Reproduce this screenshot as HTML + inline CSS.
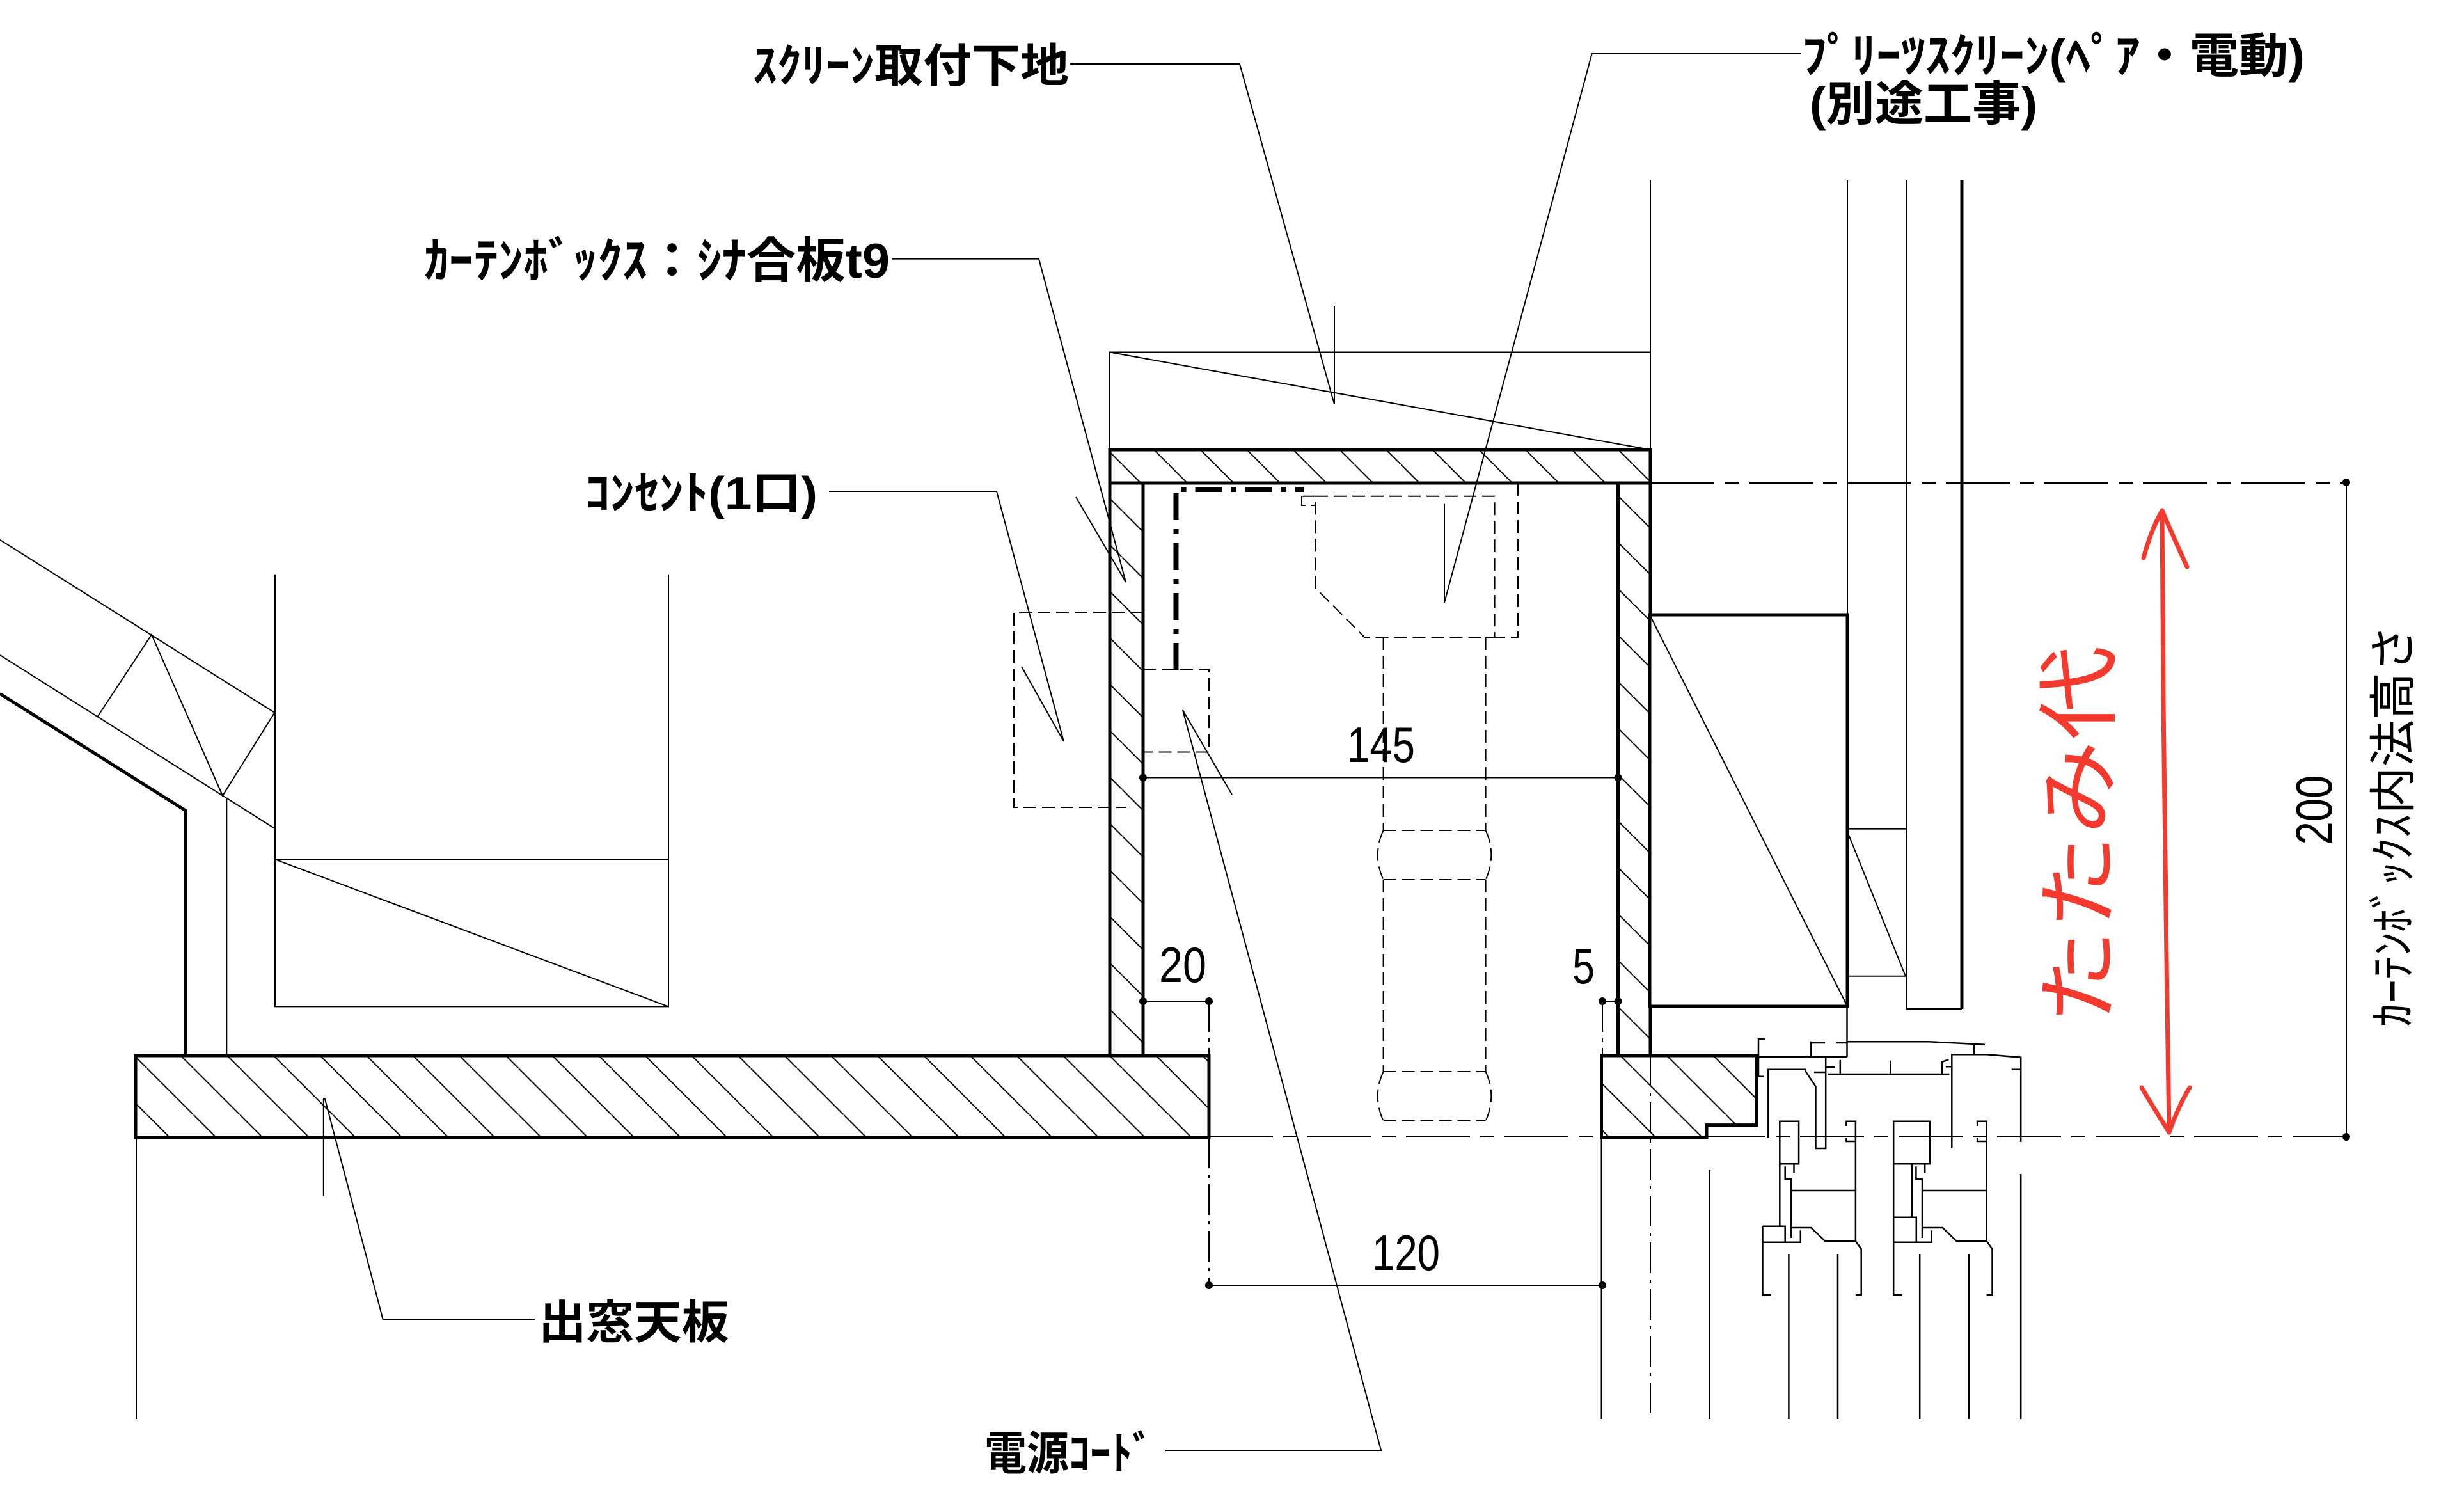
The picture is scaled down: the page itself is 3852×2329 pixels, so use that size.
<!DOCTYPE html>
<html><head><meta charset="utf-8"><style>
html,body{margin:0;padding:0;background:#fff;}
svg{display:block;}
</style></head><body>
<svg xmlns="http://www.w3.org/2000/svg" width="3852" height="2329" viewBox="0 0 3852 2329">
<defs>
<pattern id="h" patternUnits="userSpaceOnUse" width="72.6" height="72.6" x="12" y="0">
<path d="M0,0 L72.6,72.6" stroke="#000" stroke-width="2"/>
</pattern>
</defs>
<rect width="3852" height="2329" fill="#fff"/>

<!-- ===== LEFT ROOF / EAVE ===== -->
<g stroke="#000" stroke-width="2" fill="none">
<path d="M0,843.8 L429.3,1113.9"/>
<path d="M0,1024 L429.3,1294.9"/>
<path d="M153,1119.5 L237,992 L348,1243.7 L429.3,1113.9"/>
<path d="M354.3,1249 V1650"/>
<path d="M430,897.8 V1573.4 H1045 V897.8"/>
<path d="M430,1343.3 H1045"/>
<path d="M430,1343.3 L1045,1573.4"/>
<path d="M213,1778 V2218"/>
</g>
<path d="M0,1084.4 L289.7,1266.8 V1650.5" stroke="#000" stroke-width="5" fill="none"/>

<!-- ===== SLABS ===== -->
<rect x="212" y="1650" width="1678" height="128" fill="url(#h)" stroke="#000" stroke-width="5"/>
<path d="M2503.5,1650 H2745.5 V1758.6 H2668 V1778 H2503.5 Z" fill="url(#h)" stroke="#000" stroke-width="5"/>

<!-- ===== SCREEN MOUNT BASE ===== -->
<g stroke="#000" stroke-width="2" fill="none">
<path d="M1735,703 V550.5 H2580"/>
<path d="M1735,550.5 L2580,703"/>
<path d="M2580,282 V703"/>
<path d="M2888,282 V961"/>
<path d="M2980.5,282 V1577 H3067"/>
</g>
<path d="M3067,282 V1577" stroke="#000" stroke-width="5"/>

<!-- ===== CURTAIN BOX ===== -->
<rect x="1735" y="703" width="845" height="52" fill="url(#h)"/>
<rect x="1735" y="755" width="52" height="895" fill="url(#h)"/>
<rect x="2529.5" y="755" width="50.5" height="895" fill="url(#h)"/>
<g stroke="#000" stroke-width="5" fill="none">
<path d="M1735,1650 V703 H2580 V1650"/>
<path d="M1735,755 H2580"/>
<path d="M1787,755 V1650"/>
<path d="M2529.5,755 V1650"/>
</g>

<!-- window box -->
<rect x="2579" y="961" width="309" height="612" fill="#fff" stroke="#000" stroke-width="5"/>
<path d="M2579,961 L2888,1573" stroke="#000" stroke-width="2"/>
<g stroke="#000" stroke-width="2" fill="none">
<path d="M2888,1295.6 H2980.5 M2888,1525.7 H2980.5"/>
<path d="M2888,1300 L2979,1526"/>
</g>

<!-- hidden (dashed) pleated-screen head & stem -->
<g stroke="#000" stroke-width="2" fill="none" stroke-dasharray="20 9">
<path d="M2035,775.7 V790 H2056"/>
<path d="M2035,775.7 H2056"/>
<path d="M2373,755 V996 H2322.6"/>
<path d="M2056,775.7 H2336.6 V996 H2133 L2056,918.8 Z"/>
<path d="M2162.6,996 V1298 M2322.6,996 V1298"/>
<path d="M2162.6,1298 H2322.6 M2162.6,1375 H2322.6"/>
<path d="M2162.6,1298 Q2145,1336 2162.6,1375 M2322.6,1298 Q2340,1336 2322.6,1375"/>
<path d="M2162.6,1375 V1675 M2322.6,1375 V1675"/>
<path d="M2162.6,1675 H2322.6 M2162.6,1752 H2322.6"/>
<path d="M2162.6,1675 Q2145,1713 2162.6,1752 M2322.6,1675 Q2340,1713 2322.6,1752"/>
<!-- small outlet box in curtain box -->
<path d="M1787,1047 H1890 V1175.5 H1787"/>
<!-- wall outlet -->
<path d="M1787,957 H1585 V1262 H1761"/>
</g>

<!-- power cord dash-dot -->
<path d="M1838.5,1047 V765 H2038" stroke="#000" stroke-width="8" fill="none" stroke-dasharray="42 14 8 14"/>

<!-- ===== WINDOW SASH DETAIL ===== -->
<g stroke="#000" stroke-width="2.5" fill="none">
<path d="M2759.3,1624.3 H2749 V1682.7 H2757.4"/>
<path d="M2749,1652.3 H2887.5"/>
<path d="M2887.5,1573 V1652.3"/>
<path d="M2831.3,1652.3 V1627.7 M2831.3,1630 H2853.1 M2871.1,1630 H2887.5"/>
<path d="M2887.5,1628.3 H3015.7 L3103,1632.7"/>
<path d="M3085.8,1632.7 V1648.3"/>
<path d="M3051.3,1795 V1648.3 H3105.7 L3159.2,1652.7 V1785"/>
<path d="M3144.7,1671.7 H3159.2"/>
<path d="M3036,1679 V1660 L3046.3,1656 M3041.8,1667.3 H3051.3"/>
<path d="M2857.7,1679 H3047.5"/>
<path d="M2876.8,1656.7 V1679 M2955.6,1657.7 V1679"/>
<path d="M2764.3,1779 V1671.7 H2822.5 V1674.3 L2838.5,1698.3 V1795 H2854.2 V1652.3"/>
<path d="M2854.2,1668.3 H2868.4 M2835.9,1676 H2854.2"/>
<!-- sash 1 -->
<path d="M2782.3,1752.7 H2812.1 V1819.3 H2782.3 Z"/>
<path d="M2782.3,1819.3 V1916.7"/>
<path d="M2790.7,1823.3 V1843.3 H2800.3 V1935"/>
<path d="M2804.5,1819.3 V1833.3"/>
<path d="M2800.3,1861 H2900.9"/>
<path d="M2886.4,1760 V1752.7 H2900.9 V1940 M2886.4,1779 V1784 H2900.9"/>
<path d="M2755.5,1916.7 H2790.7 V1941.7 M2755.5,1916.7 V2024.3 H2768.9 M2755.5,1941.7 H2814.8 V1923.3"/>
<path d="M2800.3,1919 H2831.3 L2853.1,1940 H2900.9 L2909.7,1952.3 V2024.3 H2900.9"/>
<path d="M2796.4,1960 V2218 M2873,1960 V2218"/>
<!-- sash 2 -->
<path d="M2960.2,1752.7 H3016.9 V1819.3 H2960.2 Z"/>
<path d="M2960.2,1819.3 V2024.3 H2973.6"/>
<path d="M2988.9,1819.3 V1902.7"/>
<path d="M2960.2,1902.7 H2995.8 V1941.7 M2960.2,1941.7 H3019.6 V1923.3"/>
<path d="M2995.4,1823.3 V1843.3 H3005 V1935"/>
<path d="M3009.2,1819.3 V1833.3"/>
<path d="M3005,1861 H3105.7"/>
<path d="M3091.1,1760 V1752.7 H3105.7 V1940 M3091.1,1779 V1784 H3105.7"/>
<path d="M3005,1919 H3036.8 L3058.6,1940 H3105.7 L3114.5,1952.3 V2024.3 H3105.7"/>
<path d="M3001.2,1960 V2218 M3078.1,1960 V2218"/>
<path d="M3159.2,1835 V2218"/>
</g>

<!-- lines below slab -->
<g stroke="#000" stroke-width="2" fill="none">
<path d="M2503.5,1778 V2218"/>
<path d="M2672.6,1829 V2218"/>
</g>

<!-- ===== DIMENSIONS ===== -->
<g stroke="#000" stroke-width="2" fill="none">
<path d="M1787,1215.5 H2529.5"/>
<path d="M1787,1565 H1890"/>
<path d="M2505,1565 H2529.5"/>
<path d="M1890,2009 H2505"/>
<path d="M3668,754 V1777"/>
</g>
<g stroke="#000" stroke-width="2" fill="none" stroke-dasharray="48 10 5 10">
<path d="M1890,1565 V1650"/>
<path d="M1890,1778 V2009"/>
<path d="M2505,1565 V1650"/>
<path d="M2580,1650 V2218"/>
</g>
<g stroke="#000" stroke-width="2" fill="none" stroke-dasharray="100 16 22 16">
<path d="M2580,755 H3668"/>
<path d="M1890,1777 H3668"/>
</g>
<g fill="#000">
<circle cx="1787" cy="1215.5" r="6"/><circle cx="2529.5" cy="1215.5" r="6"/>
<circle cx="1787" cy="1565" r="6"/><circle cx="1890" cy="1565" r="6"/>
<circle cx="2505" cy="1565" r="6"/><circle cx="2529.5" cy="1565" r="6"/>
<circle cx="1890" cy="2009" r="6"/><circle cx="2505" cy="2009" r="6"/>
<circle cx="3668" cy="754" r="6"/><circle cx="3668" cy="1777" r="6"/>
</g>

<!-- ===== LEADERS ===== -->
<g stroke="#000" stroke-width="2" fill="none">
<path d="M1673,100 H1938 L2086,632 M2086,479 V632"/>
<path d="M2816,84 H2488.6 L2258,942 M2258,787.6 V942"/>
<path d="M1394,404.6 H1624 L1760,910 M1682,777 L1760,910"/>
<path d="M1296,768 H1558 L1663,1159 M1597,1042 L1663,1159"/>
<path d="M1822,2267 H2159 L1849,1110 L1926,1242"/>
<path d="M836,2062.6 H598.7 L507.5,1716 M505.8,1716 V1869.6"/>
</g>

<!-- ===== TEXT ===== -->
<g font-family="'Liberation Sans','Noto Sans CJK JP',sans-serif" fill="#000">
<text x="1177" y="128" font-size="72" font-weight="bold" textLength="494" lengthAdjust="spacingAndGlyphs">ｽｸﾘｰﾝ取付下地</text>
<text x="663" y="434" font-size="76" font-weight="bold" textLength="728" lengthAdjust="spacingAndGlyphs">ｶｰﾃﾝﾎﾞｯｸｽ：ｼﾅ合板t9</text>
<text x="915" y="796" font-size="72" font-weight="bold" textLength="363" lengthAdjust="spacingAndGlyphs">ｺﾝｾﾝﾄ(1口)</text>
<text x="2817" y="113" font-size="74" font-weight="bold" textLength="786" lengthAdjust="spacingAndGlyphs">ﾌﾟﾘｰﾂｽｸﾘｰﾝ(ﾍﾟｱ・電動)</text>
<text x="2829" y="188" font-size="74" font-weight="bold" textLength="356" lengthAdjust="spacingAndGlyphs">(別途工事)</text>
<text x="1539" y="2297" font-size="72" font-weight="bold" textLength="264" lengthAdjust="spacingAndGlyphs">電源ｺｰﾄﾞ</text>
<text x="842" y="2092" font-size="72" font-weight="bold" textLength="298" lengthAdjust="spacingAndGlyphs">出窓天板</text>
<text transform="translate(3767,1291) rotate(-90)" text-anchor="middle" font-size="74" textLength="628" lengthAdjust="spacingAndGlyphs">ｶｰﾃﾝﾎﾞｯｸｽ内法高さ</text>

<text x="2106" y="1191" font-size="78" textLength="106" lengthAdjust="spacingAndGlyphs">145</text>
<text x="1812" y="1535" font-size="78" textLength="74" lengthAdjust="spacingAndGlyphs">20</text>
<text x="2458" y="1537" font-size="78" textLength="35" lengthAdjust="spacingAndGlyphs">5</text>
<text x="2145" y="1985" font-size="78" textLength="106" lengthAdjust="spacingAndGlyphs">120</text>
<text transform="translate(3645,1266) rotate(-90)" text-anchor="middle" font-size="80" textLength="109" lengthAdjust="spacingAndGlyphs">200</text>
</g>

<!-- ===== RED ANNOTATION ===== -->
<g stroke="#f23a2e" stroke-width="7" fill="none" stroke-linecap="round" stroke-linejoin="round">
<path d="M3380,798 L3382,1100 L3387,1500 L3391,1770"/>
<path d="M3351,872 Q3362,830 3380,798 Q3398,840 3419,886"/>
<path d="M3348,1700 Q3372,1740 3391,1770 Q3405,1730 3423,1700"/>
</g>
<text transform="translate(3296,1305) rotate(-90)" text-anchor="middle" font-family="'Liberation Sans','Noto Sans CJK JP',sans-serif" font-size="130" fill="#f23a2e" textLength="592" lengthAdjust="spacingAndGlyphs">たたみ代</text>
</svg>
</body></html>
